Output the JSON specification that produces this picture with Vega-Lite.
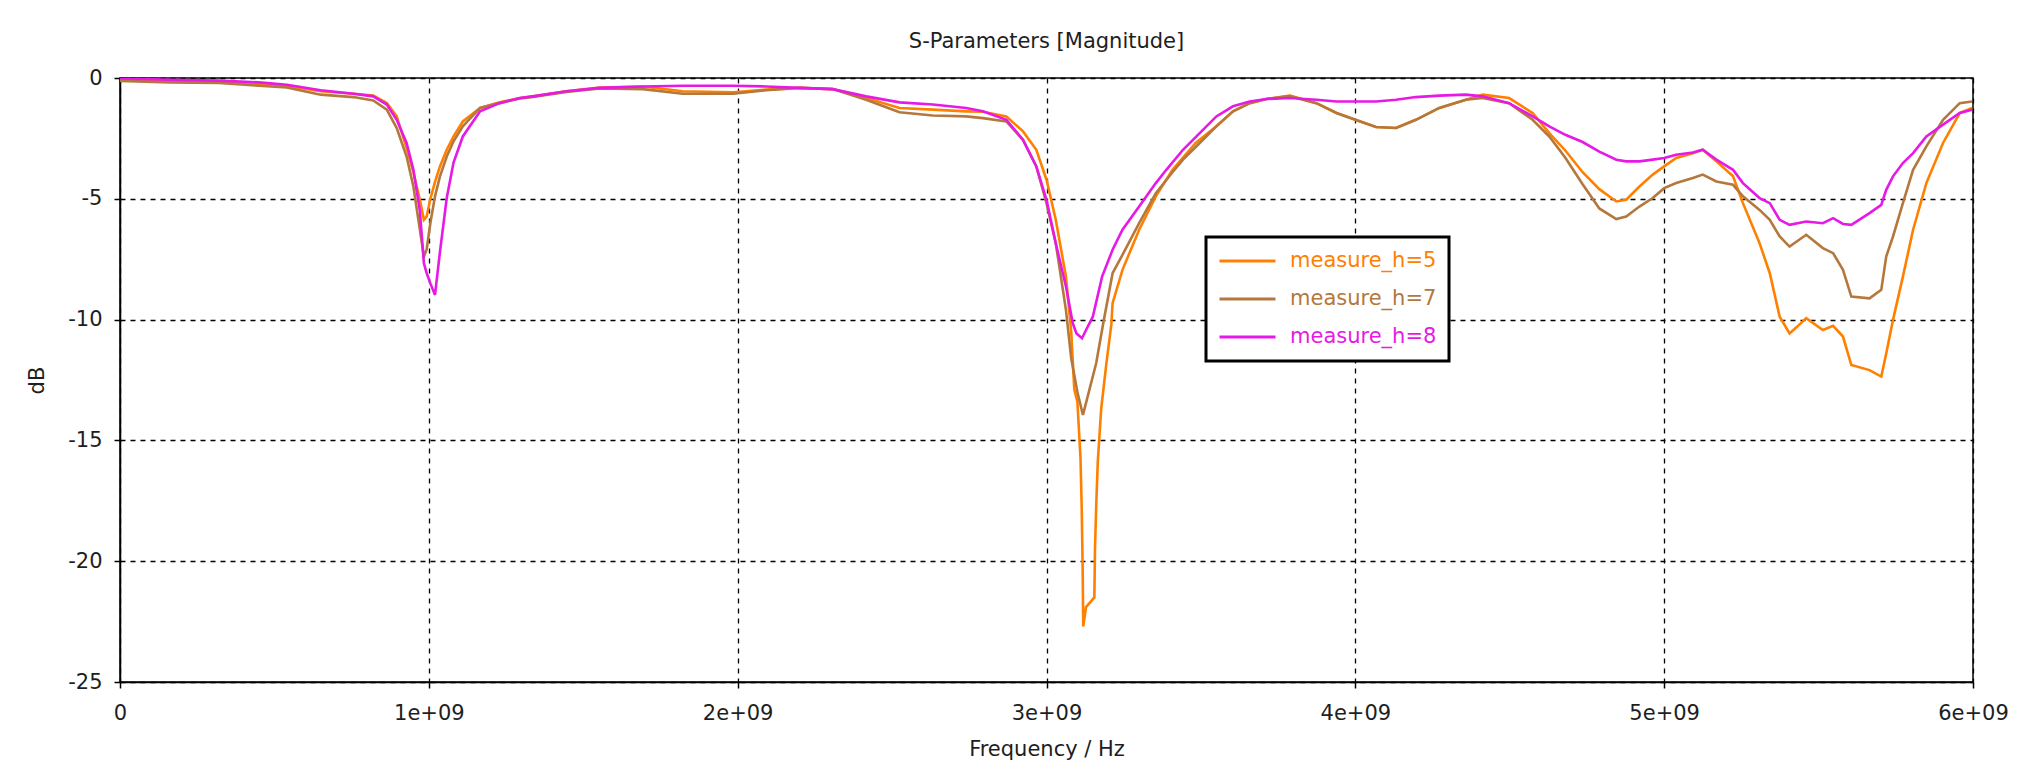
{
  "$schema": "https://vega.github.io/schema/vega-lite/v6.json",
  "autosize": {"type": "none"},
  "padding": {"left": 120, "top": 78, "right": 59, "bottom": 91},
  "width": 1853,
  "height": 604,
  "background": "white",
  "title": {"text": "S-Parameters [Magnitude]", "font": "DejaVu Sans", "fontSize": 21, "fontWeight": "normal", "color": "#1e1e1e", "offset": 15, "frame": "group", "anchor": "middle"},
  "config": {
    "font": "DejaVu Sans",
    "view": {"stroke": "black", "strokeWidth": 1.5},
    "axis": {
      "domainColor": "black", "domainWidth": 1.5,
      "tickColor": "black", "tickWidth": 1.5, "tickSize": 6,
      "labelFont": "DejaVu Sans", "labelFontSize": 21, "labelColor": "#1e1e1e",
      "titleFont": "DejaVu Sans", "titleFontSize": 21, "titleFontWeight": "normal", "titleColor": "#1e1e1e",
      "grid": true, "gridColor": "black", "gridOpacity": 1, "gridWidth": 1.3, "gridDash": [5, 5]
    }
  },
  "data": {"values": [
{"s":"measure_h=5","f":0,"dB":-0.10},{"s":"measure_h=5","f":0.16e9,"dB":-0.12},{"s":"measure_h=5","f":0.32e9,"dB":-0.15},{"s":"measure_h=5","f":0.45e9,"dB":-0.25},{"s":"measure_h=5","f":0.54e9,"dB":-0.33},{"s":"measure_h=5","f":0.65e9,"dB":-0.55},{"s":"measure_h=5","f":0.756e9,"dB":-0.65},{"s":"measure_h=5","f":0.82e9,"dB":-0.73},{"s":"measure_h=5","f":0.864e9,"dB":-1.04},{"s":"measure_h=5","f":0.896e9,"dB":-1.59},{"s":"measure_h=5","f":0.928e9,"dB":-2.9},{"s":"measure_h=5","f":0.95e9,"dB":-3.9},{"s":"measure_h=5","f":0.971e9,"dB":-5.04},{"s":"measure_h=5","f":0.984e9,"dB":-5.87},{"s":"measure_h=5","f":0.993e9,"dB":-5.73},{"s":"measure_h=5","f":1.005e9,"dB":-5.0},{"s":"measure_h=5","f":1.02e9,"dB":-4.3},{"s":"measure_h=5","f":1.036e9,"dB":-3.66},{"s":"measure_h=5","f":1.058e9,"dB":-2.97},{"s":"measure_h=5","f":1.08e9,"dB":-2.42},{"s":"measure_h=5","f":1.11e9,"dB":-1.8},{"s":"measure_h=5","f":1.166e9,"dB":-1.24},{"s":"measure_h=5","f":1.229e9,"dB":-1.0},{"s":"measure_h=5","f":1.295e9,"dB":-0.83},{"s":"measure_h=5","f":1.337e9,"dB":-0.76},{"s":"measure_h=5","f":1.445e9,"dB":-0.55},{"s":"measure_h=5","f":1.553e9,"dB":-0.40},{"s":"measure_h=5","f":1.693e9,"dB":-0.35},{"s":"measure_h=5","f":1.822e9,"dB":-0.55},{"s":"measure_h=5","f":1.985e9,"dB":-0.59},{"s":"measure_h=5","f":2.092e9,"dB":-0.48},{"s":"measure_h=5","f":2.2e9,"dB":-0.41},{"s":"measure_h=5","f":2.308e9,"dB":-0.46},{"s":"measure_h=5","f":2.416e9,"dB":-0.83},{"s":"measure_h=5","f":2.524e9,"dB":-1.24},{"s":"measure_h=5","f":2.632e9,"dB":-1.31},{"s":"measure_h=5","f":2.74e9,"dB":-1.38},{"s":"measure_h=5","f":2.794e9,"dB":-1.40},{"s":"measure_h=5","f":2.87e9,"dB":-1.59},{"s":"measure_h=5","f":2.924e9,"dB":-2.21},{"s":"measure_h=5","f":2.967e9,"dB":-2.97},{"s":"measure_h=5","f":3.0e9,"dB":-4.21},{"s":"measure_h=5","f":3.03e9,"dB":-5.87},{"s":"measure_h=5","f":3.063e9,"dB":-8.22},{"s":"measure_h=5","f":3.08e9,"dB":-10.5},{"s":"measure_h=5","f":3.09e9,"dB":-12.9},{"s":"measure_h=5","f":3.10e9,"dB":-13.4},{"s":"measure_h=5","f":3.11e9,"dB":-15.7},{"s":"measure_h=5","f":3.114e9,"dB":-17.8},{"s":"measure_h=5","f":3.117e9,"dB":-20.2},{"s":"measure_h=5","f":3.119e9,"dB":-22.7},{"s":"measure_h=5","f":3.128e9,"dB":-21.9},{"s":"measure_h=5","f":3.155e9,"dB":-21.5},{"s":"measure_h=5","f":3.157e9,"dB":-19.5},{"s":"measure_h=5","f":3.161e9,"dB":-17.7},{"s":"measure_h=5","f":3.166e9,"dB":-15.9},{"s":"measure_h=5","f":3.177e9,"dB":-13.7},{"s":"measure_h=5","f":3.194e9,"dB":-11.8},{"s":"measure_h=5","f":3.21e9,"dB":-10.2},{"s":"measure_h=5","f":3.214e9,"dB":-9.32},{"s":"measure_h=5","f":3.246e9,"dB":-7.94},{"s":"measure_h=5","f":3.3e9,"dB":-6.28},{"s":"measure_h=5","f":3.354e9,"dB":-4.9},{"s":"measure_h=5","f":3.408e9,"dB":-3.8},{"s":"measure_h=5","f":3.483e9,"dB":-2.69},{"s":"measure_h=5","f":3.55e9,"dB":-2.0},{"s":"measure_h=5","f":3.604e9,"dB":-1.38},{"s":"measure_h=5","f":3.658e9,"dB":-1.04},{"s":"measure_h=5","f":3.712e9,"dB":-0.87},{"s":"measure_h=5","f":3.788e9,"dB":-0.73},{"s":"measure_h=5","f":3.874e9,"dB":-1.04},{"s":"measure_h=5","f":3.939e9,"dB":-1.45},{"s":"measure_h=5","f":4.0e9,"dB":-1.73},{"s":"measure_h=5","f":4.067e9,"dB":-2.03},{"s":"measure_h=5","f":4.132e9,"dB":-2.07},{"s":"measure_h=5","f":4.196e9,"dB":-1.73},{"s":"measure_h=5","f":4.272e9,"dB":-1.24},{"s":"measure_h=5","f":4.358e9,"dB":-0.9},{"s":"measure_h=5","f":4.412e9,"dB":-0.69},{"s":"measure_h=5","f":4.498e9,"dB":-0.83},{"s":"measure_h=5","f":4.574e9,"dB":-1.45},{"s":"measure_h=5","f":4.628e9,"dB":-2.28},{"s":"measure_h=5","f":4.68e9,"dB":-3.0},{"s":"measure_h=5","f":4.736e9,"dB":-3.9},{"s":"measure_h=5","f":4.79e9,"dB":-4.6},{"s":"measure_h=5","f":4.845e9,"dB":-5.11},{"s":"measure_h=5","f":4.877e9,"dB":-5.04},{"s":"measure_h=5","f":4.92e9,"dB":-4.49},{"s":"measure_h=5","f":4.963e9,"dB":-4.0},{"s":"measure_h=5","f":5.0e9,"dB":-3.66},{"s":"measure_h=5","f":5.039e9,"dB":-3.31},{"s":"measure_h=5","f":5.093e9,"dB":-3.11},{"s":"measure_h=5","f":5.125e9,"dB":-2.97},{"s":"measure_h=5","f":5.169e9,"dB":-3.45},{"s":"measure_h=5","f":5.223e9,"dB":-4.07},{"s":"measure_h=5","f":5.255e9,"dB":-5.18},{"s":"measure_h=5","f":5.309e9,"dB":-6.84},{"s":"measure_h=5","f":5.342e9,"dB":-8.08},{"s":"measure_h=5","f":5.374e9,"dB":-9.88},{"s":"measure_h=5","f":5.406e9,"dB":-10.57},{"s":"measure_h=5","f":5.43e9,"dB":-10.3},{"s":"measure_h=5","f":5.46e9,"dB":-9.94},{"s":"measure_h=5","f":5.514e9,"dB":-10.43},{"s":"measure_h=5","f":5.547e9,"dB":-10.26},{"s":"measure_h=5","f":5.579e9,"dB":-10.7},{"s":"measure_h=5","f":5.606e9,"dB":-11.88},{"s":"measure_h=5","f":5.665e9,"dB":-12.09},{"s":"measure_h=5","f":5.703e9,"dB":-12.36},{"s":"measure_h=5","f":5.719e9,"dB":-11.4},{"s":"measure_h=5","f":5.741e9,"dB":-10.01},{"s":"measure_h=5","f":5.773e9,"dB":-8.22},{"s":"measure_h=5","f":5.806e9,"dB":-6.28},{"s":"measure_h=5","f":5.849e9,"dB":-4.35},{"s":"measure_h=5","f":5.903e9,"dB":-2.69},{"s":"measure_h=5","f":5.957e9,"dB":-1.45},{"s":"measure_h=5","f":5.997e9,"dB":-1.24},
{"s":"measure_h=7","f":0,"dB":-0.12},{"s":"measure_h=7","f":0.16e9,"dB":-0.18},{"s":"measure_h=7","f":0.32e9,"dB":-0.20},{"s":"measure_h=7","f":0.45e9,"dB":-0.32},{"s":"measure_h=7","f":0.54e9,"dB":-0.39},{"s":"measure_h=7","f":0.65e9,"dB":-0.69},{"s":"measure_h=7","f":0.756e9,"dB":-0.79},{"s":"measure_h=7","f":0.82e9,"dB":-0.93},{"s":"measure_h=7","f":0.864e9,"dB":-1.31},{"s":"measure_h=7","f":0.896e9,"dB":-2.07},{"s":"measure_h=7","f":0.928e9,"dB":-3.25},{"s":"measure_h=7","f":0.95e9,"dB":-4.49},{"s":"measure_h=7","f":0.971e9,"dB":-6.28},{"s":"measure_h=7","f":0.984e9,"dB":-7.39},{"s":"measure_h=7","f":0.993e9,"dB":-7.1},{"s":"measure_h=7","f":1.005e9,"dB":-6.0},{"s":"measure_h=7","f":1.02e9,"dB":-4.9},{"s":"measure_h=7","f":1.036e9,"dB":-4.07},{"s":"measure_h=7","f":1.058e9,"dB":-3.25},{"s":"measure_h=7","f":1.08e9,"dB":-2.62},{"s":"measure_h=7","f":1.11e9,"dB":-2.0},{"s":"measure_h=7","f":1.166e9,"dB":-1.24},{"s":"measure_h=7","f":1.229e9,"dB":-1.04},{"s":"measure_h=7","f":1.295e9,"dB":-0.85},{"s":"measure_h=7","f":1.337e9,"dB":-0.78},{"s":"measure_h=7","f":1.445e9,"dB":-0.58},{"s":"measure_h=7","f":1.553e9,"dB":-0.43},{"s":"measure_h=7","f":1.693e9,"dB":-0.46},{"s":"measure_h=7","f":1.822e9,"dB":-0.65},{"s":"measure_h=7","f":1.985e9,"dB":-0.65},{"s":"measure_h=7","f":2.092e9,"dB":-0.51},{"s":"measure_h=7","f":2.2e9,"dB":-0.41},{"s":"measure_h=7","f":2.308e9,"dB":-0.46},{"s":"measure_h=7","f":2.416e9,"dB":-0.9},{"s":"measure_h=7","f":2.524e9,"dB":-1.42},{"s":"measure_h=7","f":2.632e9,"dB":-1.55},{"s":"measure_h=7","f":2.74e9,"dB":-1.59},{"s":"measure_h=7","f":2.794e9,"dB":-1.66},{"s":"measure_h=7","f":2.87e9,"dB":-1.8},{"s":"measure_h=7","f":2.924e9,"dB":-2.56},{"s":"measure_h=7","f":2.967e9,"dB":-3.66},{"s":"measure_h=7","f":3.0e9,"dB":-5.18},{"s":"measure_h=7","f":3.03e9,"dB":-6.84},{"s":"measure_h=7","f":3.063e9,"dB":-9.6},{"s":"measure_h=7","f":3.08e9,"dB":-11.6},{"s":"measure_h=7","f":3.10e9,"dB":-13.0},{"s":"measure_h=7","f":3.118e9,"dB":-13.95},{"s":"measure_h=7","f":3.139e9,"dB":-12.9},{"s":"measure_h=7","f":3.161e9,"dB":-11.8},{"s":"measure_h=7","f":3.183e9,"dB":-10.2},{"s":"measure_h=7","f":3.214e9,"dB":-8.08},{"s":"measure_h=7","f":3.246e9,"dB":-7.32},{"s":"measure_h=7","f":3.3e9,"dB":-6.01},{"s":"measure_h=7","f":3.354e9,"dB":-4.77},{"s":"measure_h=7","f":3.408e9,"dB":-3.9},{"s":"measure_h=7","f":3.442e9,"dB":-3.38},{"s":"measure_h=7","f":3.496e9,"dB":-2.69},{"s":"measure_h=7","f":3.55e9,"dB":-2.0},{"s":"measure_h=7","f":3.604e9,"dB":-1.38},{"s":"measure_h=7","f":3.658e9,"dB":-1.04},{"s":"measure_h=7","f":3.712e9,"dB":-0.87},{"s":"measure_h=7","f":3.788e9,"dB":-0.75},{"s":"measure_h=7","f":3.874e9,"dB":-1.04},{"s":"measure_h=7","f":3.939e9,"dB":-1.45},{"s":"measure_h=7","f":4.0e9,"dB":-1.73},{"s":"measure_h=7","f":4.067e9,"dB":-2.03},{"s":"measure_h=7","f":4.132e9,"dB":-2.07},{"s":"measure_h=7","f":4.196e9,"dB":-1.73},{"s":"measure_h=7","f":4.272e9,"dB":-1.24},{"s":"measure_h=7","f":4.358e9,"dB":-0.9},{"s":"measure_h=7","f":4.412e9,"dB":-0.83},{"s":"measure_h=7","f":4.498e9,"dB":-1.04},{"s":"measure_h=7","f":4.574e9,"dB":-1.73},{"s":"measure_h=7","f":4.628e9,"dB":-2.42},{"s":"measure_h=7","f":4.68e9,"dB":-3.3},{"s":"measure_h=7","f":4.736e9,"dB":-4.4},{"s":"measure_h=7","f":4.79e9,"dB":-5.4},{"s":"measure_h=7","f":4.845e9,"dB":-5.84},{"s":"measure_h=7","f":4.877e9,"dB":-5.73},{"s":"measure_h=7","f":4.92e9,"dB":-5.32},{"s":"measure_h=7","f":4.963e9,"dB":-4.97},{"s":"measure_h=7","f":5.0e9,"dB":-4.56},{"s":"measure_h=7","f":5.039e9,"dB":-4.35},{"s":"measure_h=7","f":5.093e9,"dB":-4.14},{"s":"measure_h=7","f":5.125e9,"dB":-4.0},{"s":"measure_h=7","f":5.169e9,"dB":-4.28},{"s":"measure_h=7","f":5.223e9,"dB":-4.42},{"s":"measure_h=7","f":5.255e9,"dB":-4.9},{"s":"measure_h=7","f":5.309e9,"dB":-5.46},{"s":"measure_h=7","f":5.342e9,"dB":-5.87},{"s":"measure_h=7","f":5.374e9,"dB":-6.56},{"s":"measure_h=7","f":5.406e9,"dB":-6.98},{"s":"measure_h=7","f":5.46e9,"dB":-6.49},{"s":"measure_h=7","f":5.514e9,"dB":-7.04},{"s":"measure_h=7","f":5.547e9,"dB":-7.25},{"s":"measure_h=7","f":5.579e9,"dB":-7.94},{"s":"measure_h=7","f":5.606e9,"dB":-9.05},{"s":"measure_h=7","f":5.665e9,"dB":-9.12},{"s":"measure_h=7","f":5.703e9,"dB":-8.77},{"s":"measure_h=7","f":5.719e9,"dB":-7.39},{"s":"measure_h=7","f":5.741e9,"dB":-6.56},{"s":"measure_h=7","f":5.773e9,"dB":-5.18},{"s":"measure_h=7","f":5.806e9,"dB":-3.8},{"s":"measure_h=7","f":5.849e9,"dB":-2.83},{"s":"measure_h=7","f":5.903e9,"dB":-1.73},{"s":"measure_h=7","f":5.957e9,"dB":-1.04},{"s":"measure_h=7","f":5.997e9,"dB":-0.97},
{"s":"measure_h=8","f":0,"dB":-0.02},{"s":"measure_h=8","f":0.16e9,"dB":-0.07},{"s":"measure_h=8","f":0.32e9,"dB":-0.11},{"s":"measure_h=8","f":0.45e9,"dB":-0.18},{"s":"measure_h=8","f":0.54e9,"dB":-0.28},{"s":"measure_h=8","f":0.65e9,"dB":-0.51},{"s":"measure_h=8","f":0.756e9,"dB":-0.65},{"s":"measure_h=8","f":0.82e9,"dB":-0.76},{"s":"measure_h=8","f":0.864e9,"dB":-1.10},{"s":"measure_h=8","f":0.896e9,"dB":-1.73},{"s":"measure_h=8","f":0.928e9,"dB":-2.69},{"s":"measure_h=8","f":0.95e9,"dB":-3.8},{"s":"measure_h=8","f":0.971e9,"dB":-5.5},{"s":"measure_h=8","f":0.984e9,"dB":-7.67},{"s":"measure_h=8","f":0.993e9,"dB":-8.08},{"s":"measure_h=8","f":1.005e9,"dB":-8.5},{"s":"measure_h=8","f":1.02e9,"dB":-8.98},{"s":"measure_h=8","f":1.036e9,"dB":-7.2},{"s":"measure_h=8","f":1.058e9,"dB":-4.97},{"s":"measure_h=8","f":1.08e9,"dB":-3.5},{"s":"measure_h=8","f":1.11e9,"dB":-2.42},{"s":"measure_h=8","f":1.166e9,"dB":-1.38},{"s":"measure_h=8","f":1.229e9,"dB":-1.04},{"s":"measure_h=8","f":1.295e9,"dB":-0.83},{"s":"measure_h=8","f":1.337e9,"dB":-0.76},{"s":"measure_h=8","f":1.445e9,"dB":-0.55},{"s":"measure_h=8","f":1.553e9,"dB":-0.41},{"s":"measure_h=8","f":1.693e9,"dB":-0.35},{"s":"measure_h=8","f":1.822e9,"dB":-0.32},{"s":"measure_h=8","f":1.985e9,"dB":-0.32},{"s":"measure_h=8","f":2.092e9,"dB":-0.35},{"s":"measure_h=8","f":2.2e9,"dB":-0.41},{"s":"measure_h=8","f":2.308e9,"dB":-0.46},{"s":"measure_h=8","f":2.416e9,"dB":-0.76},{"s":"measure_h=8","f":2.524e9,"dB":-1.01},{"s":"measure_h=8","f":2.632e9,"dB":-1.1},{"s":"measure_h=8","f":2.74e9,"dB":-1.24},{"s":"measure_h=8","f":2.794e9,"dB":-1.38},{"s":"measure_h=8","f":2.87e9,"dB":-1.73},{"s":"measure_h=8","f":2.924e9,"dB":-2.56},{"s":"measure_h=8","f":2.967e9,"dB":-3.66},{"s":"measure_h=8","f":3.0e9,"dB":-5.04},{"s":"measure_h=8","f":3.03e9,"dB":-6.84},{"s":"measure_h=8","f":3.063e9,"dB":-8.63},{"s":"measure_h=8","f":3.085e9,"dB":-10.15},{"s":"measure_h=8","f":3.097e9,"dB":-10.57},{"s":"measure_h=8","f":3.115e9,"dB":-10.77},{"s":"measure_h=8","f":3.128e9,"dB":-10.43},{"s":"measure_h=8","f":3.15e9,"dB":-9.88},{"s":"measure_h=8","f":3.18e9,"dB":-8.22},{"s":"measure_h=8","f":3.214e9,"dB":-7.11},{"s":"measure_h=8","f":3.246e9,"dB":-6.28},{"s":"measure_h=8","f":3.3e9,"dB":-5.32},{"s":"measure_h=8","f":3.354e9,"dB":-4.35},{"s":"measure_h=8","f":3.388e9,"dB":-3.8},{"s":"measure_h=8","f":3.442e9,"dB":-2.97},{"s":"measure_h=8","f":3.496e9,"dB":-2.28},{"s":"measure_h=8","f":3.55e9,"dB":-1.59},{"s":"measure_h=8","f":3.604e9,"dB":-1.17},{"s":"measure_h=8","f":3.658e9,"dB":-0.97},{"s":"measure_h=8","f":3.712e9,"dB":-0.87},{"s":"measure_h=8","f":3.788e9,"dB":-0.83},{"s":"measure_h=8","f":3.874e9,"dB":-0.9},{"s":"measure_h=8","f":3.939e9,"dB":-0.97},{"s":"measure_h=8","f":4.0e9,"dB":-0.97},{"s":"measure_h=8","f":4.067e9,"dB":-0.97},{"s":"measure_h=8","f":4.132e9,"dB":-0.9},{"s":"measure_h=8","f":4.196e9,"dB":-0.79},{"s":"measure_h=8","f":4.272e9,"dB":-0.73},{"s":"measure_h=8","f":4.358e9,"dB":-0.69},{"s":"measure_h=8","f":4.412e9,"dB":-0.76},{"s":"measure_h=8","f":4.498e9,"dB":-1.04},{"s":"measure_h=8","f":4.574e9,"dB":-1.59},{"s":"measure_h=8","f":4.628e9,"dB":-2.0},{"s":"measure_h=8","f":4.68e9,"dB":-2.35},{"s":"measure_h=8","f":4.736e9,"dB":-2.65},{"s":"measure_h=8","f":4.79e9,"dB":-3.05},{"s":"measure_h=8","f":4.845e9,"dB":-3.38},{"s":"measure_h=8","f":4.877e9,"dB":-3.45},{"s":"measure_h=8","f":4.92e9,"dB":-3.45},{"s":"measure_h=8","f":4.963e9,"dB":-3.38},{"s":"measure_h=8","f":5.0e9,"dB":-3.31},{"s":"measure_h=8","f":5.039e9,"dB":-3.18},{"s":"measure_h=8","f":5.093e9,"dB":-3.08},{"s":"measure_h=8","f":5.125e9,"dB":-2.97},{"s":"measure_h=8","f":5.169e9,"dB":-3.38},{"s":"measure_h=8","f":5.223e9,"dB":-3.8},{"s":"measure_h=8","f":5.255e9,"dB":-4.35},{"s":"measure_h=8","f":5.309e9,"dB":-4.97},{"s":"measure_h=8","f":5.342e9,"dB":-5.18},{"s":"measure_h=8","f":5.374e9,"dB":-5.87},{"s":"measure_h=8","f":5.406e9,"dB":-6.08},{"s":"measure_h=8","f":5.46e9,"dB":-5.94},{"s":"measure_h=8","f":5.514e9,"dB":-6.01},{"s":"measure_h=8","f":5.547e9,"dB":-5.8},{"s":"measure_h=8","f":5.579e9,"dB":-6.04},{"s":"measure_h=8","f":5.606e9,"dB":-6.08},{"s":"measure_h=8","f":5.665e9,"dB":-5.59},{"s":"measure_h=8","f":5.703e9,"dB":-5.25},{"s":"measure_h=8","f":5.719e9,"dB":-4.63},{"s":"measure_h=8","f":5.741e9,"dB":-4.07},{"s":"measure_h=8","f":5.773e9,"dB":-3.52},{"s":"measure_h=8","f":5.806e9,"dB":-3.11},{"s":"measure_h=8","f":5.849e9,"dB":-2.42},{"s":"measure_h=8","f":5.903e9,"dB":-1.93},{"s":"measure_h=8","f":5.957e9,"dB":-1.45},{"s":"measure_h=8","f":5.997e9,"dB":-1.31}
  ]},
  "mark": {"type": "line", "strokeWidth": 2.6, "clip": true},
  "encoding": {
    "x": {"field": "f", "type": "quantitative",
      "scale": {"domain": [0, 6000000000], "nice": false, "zero": false},
      "axis": {"title": "Frequency / Hz", "values": [0, 1000000000, 2000000000, 3000000000, 4000000000, 5000000000, 6000000000],
        "labelExpr": "datum.value == 0 ? '0' : round(datum.value/1e9) + 'e+09'",
        "labelPadding": 14, "titlePadding": 15, "labelFlush": false, "labelOverlap": false}},
    "y": {"field": "dB", "type": "quantitative",
      "scale": {"domain": [-25, 0], "nice": false, "zero": false},
      "axis": {"title": "dB", "values": [0, -5, -10, -15, -20, -25],
        "labelExpr": "'' + datum.value", "labelPadding": 12, "titlePadding": 20}},
    "color": {"field": "s", "type": "nominal",
      "scale": {"domain": ["measure_h=5", "measure_h=7", "measure_h=8"], "range": ["#ff8000", "#b4783c", "#e619e6"]},
      "legend": {"title": null, "orient": "none", "legendX": 1086, "legendY": 159,
        "symbolType": "stroke", "symbolSize": 3136, "symbolStrokeWidth": 3,
        "labelFont": "DejaVu Sans", "labelFontSize": 21, "labelOffset": 13, "labelLimit": 400,
        "clipHeight": 24,
        "padding": 12, "rowPadding": 14,
        "fillColor": "white", "strokeColor": "black",
        "encode": {
          "labels": {"update": {"fill": {"scale": "color", "field": "value"}}},
          "legend": {"update": {"strokeWidth": {"value": 3}}}
        }}}
  }
}
